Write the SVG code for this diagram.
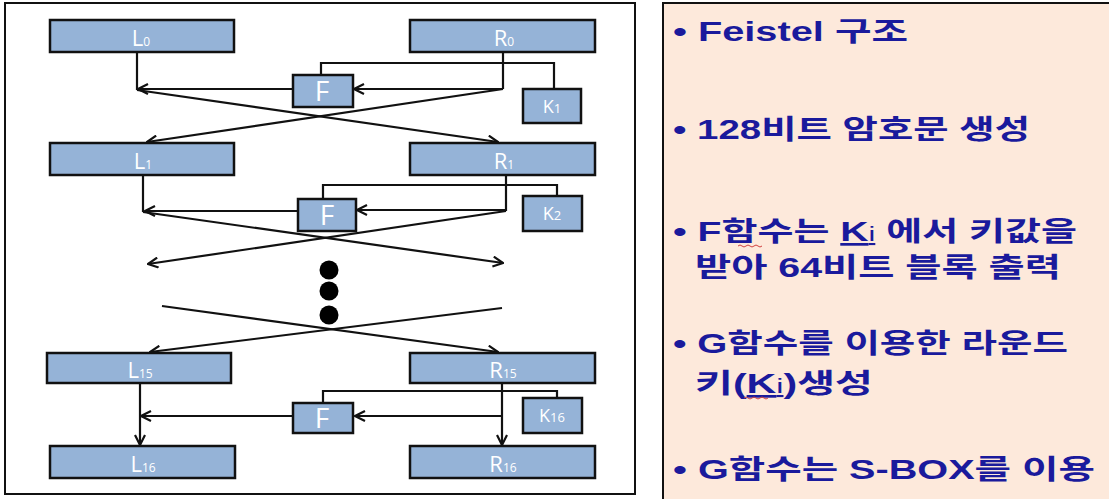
<svg xmlns="http://www.w3.org/2000/svg" width="1109" height="499" viewBox="0 0 1109 499">
<style>
.box{fill:#95B3D7;stroke:#111;stroke-width:2.5}
.lbl{fill:#fff;font-family:"Open Sans","Liberation Sans",sans-serif;font-size:22px}
.flbl{fill:#fff;font-family:"Open Sans","Liberation Sans",sans-serif;font-size:28px}
.sub{font-size:12px}
.klbl{fill:#fff;font-family:"Open Sans","Liberation Sans",sans-serif;font-size:18px}
.ksub{font-size:13px}
.ln{fill:none;stroke:#111;stroke-width:2.2}
.arr{fill:none;stroke:#111;stroke-width:2.2;marker-end:url(#ah)}
.txt{fill:#1A1A9C;font-family:"Liberation Sans","Noto Sans CJK KR",sans-serif;font-weight:bold;font-size:27px}
</style>
<defs>
<marker id="ah" viewBox="0 0 12 12" refX="11" refY="6" markerWidth="12" markerHeight="12" markerUnits="userSpaceOnUse" orient="auto">
<path d="M1,1 L11,6 L1,11" fill="none" stroke="#111" stroke-width="2.2"/>
</marker>
</defs>
<rect width="1109" height="499" fill="#fff"/>
<rect x="5" y="3" width="630" height="491" fill="#fff" stroke="#111" stroke-width="2"/>
<rect x="663" y="3" width="450" height="500" fill="#FDE9DB" stroke="#111" stroke-width="2"/>

<g id="connectors">
<path class="ln" d="M137,52 V90"/>
<path class="ln" d="M503,52 V89"/>
<path class="ln" d="M321,75 V63 H554 V89"/>
<path class="arr" d="M503,89 H354"/>
<path class="arr" d="M293,89 H138"/>
<path class="arr" d="M137,90 L498,142"/>
<path class="arr" d="M503,89 L147,142"/>
<path class="ln" d="M143,175 V212"/>
<path class="ln" d="M506,175 V211"/>
<path class="ln" d="M323,199 V185 H557 V196"/>
<path class="arr" d="M506,210 H357"/>
<path class="arr" d="M298,211 H145"/>
<path class="arr" d="M143,212 L503,263"/>
<path class="arr" d="M506,211 L148,264"/>
<path class="arr" d="M162,306 L498,352"/>
<path class="arr" d="M502,308 L150,352"/>
<path class="arr" d="M140,383 V445"/>
<path class="arr" d="M502,383 V445"/>
<path class="ln" d="M323,403 V391 H557 V398"/>
<path class="arr" d="M502,416 H355"/>
<path class="arr" d="M293,416 H141"/>
</g>

<g id="dots">
<circle cx="329" cy="270" r="9.5" fill="#000"/>
<circle cx="329" cy="291" r="9.5" fill="#000"/>
<circle cx="329" cy="315" r="9.5" fill="#000"/>
</g>

<g id="L0"><rect class="box" x="50" y="20" width="184" height="32"/><text class="lbl" x="141" y="46" text-anchor="middle">L<tspan class="sub">0</tspan></text></g>
<g id="R0"><rect class="box" x="410" y="20" width="185" height="32"/><text class="lbl" x="504" y="46" text-anchor="middle">R<tspan class="sub">0</tspan></text></g>
<g id="F1"><rect class="box" x="293" y="75" width="60" height="32"/><text class="flbl" x="322" y="101" text-anchor="middle">F</text></g>
<g id="K1"><rect class="box" x="523" y="89" width="58" height="34"/><text class="klbl" x="552" y="113" text-anchor="middle">K<tspan class="ksub">1</tspan></text></g>
<g id="L1"><rect class="box" x="50" y="143" width="184" height="32"/><text class="lbl" x="143" y="169" text-anchor="middle">L<tspan class="sub">1</tspan></text></g>
<g id="R1"><rect class="box" x="410" y="143" width="185" height="32"/><text class="lbl" x="504" y="169" text-anchor="middle">R<tspan class="sub">1</tspan></text></g>
<g id="F2"><rect class="box" x="298" y="199" width="58" height="32"/><text class="flbl" x="327" y="225" text-anchor="middle">F</text></g>
<g id="K2"><rect class="box" x="523" y="196" width="59" height="35"/><text class="klbl" x="552" y="220" text-anchor="middle">K<tspan class="ksub">2</tspan></text></g>
<g id="L15"><rect class="box" x="47" y="353" width="184" height="30"/><text class="lbl" x="140" y="378" text-anchor="middle">L<tspan class="sub">15</tspan></text></g>
<g id="R15"><rect class="box" x="410" y="353" width="185" height="30"/><text class="lbl" x="503" y="378" text-anchor="middle">R<tspan class="sub">15</tspan></text></g>
<g id="F3"><rect class="box" x="293" y="403" width="60" height="30"/><text class="flbl" x="322" y="428" text-anchor="middle">F</text></g>
<g id="K16"><rect class="box" x="523" y="398" width="59" height="35"/><text class="klbl" x="552" y="422" text-anchor="middle">K<tspan class="ksub">16</tspan></text></g>
<g id="L16"><rect class="box" x="50" y="446" width="185" height="32"/><text class="lbl" x="143" y="472" text-anchor="middle">L<tspan class="sub">16</tspan></text></g>
<g id="R16"><rect class="box" x="410" y="446" width="185" height="32"/><text class="lbl" x="503" y="472" text-anchor="middle">R<tspan class="sub">16</tspan></text></g>

<g id="notes">
<text class="txt" x="673" y="41" textLength="235" lengthAdjust="spacingAndGlyphs">• Feistel 구조</text>
<text class="txt" x="673" y="139" textLength="357" lengthAdjust="spacingAndGlyphs">• 128비트 암호문 생성</text>
<text class="txt" x="673" y="241" textLength="404" lengthAdjust="spacingAndGlyphs">• F함수는 <tspan text-decoration="underline">K<tspan font-weight="normal" font-size="21">i</tspan></tspan> 에서 키값을</text>
<text class="txt" x="695" y="277" textLength="366" lengthAdjust="spacingAndGlyphs">받아 64비트 블록 출력</text>
<text class="txt" x="673" y="353" textLength="395" lengthAdjust="spacingAndGlyphs">• G함수를 이용한 라운드</text>
<text class="txt" x="695" y="393" textLength="178" lengthAdjust="spacingAndGlyphs">키(<tspan text-decoration="underline">K<tspan font-weight="normal" font-size="21">i</tspan></tspan>)생성</text>
<text class="txt" x="673" y="479" textLength="422" lengthAdjust="spacingAndGlyphs">• G함수는 S-BOX를 이용</text>
<path d="M738,246 q2,-2 4,0 t4,0 t4,0 t4,0 t4,0 t4,0" fill="none" stroke="#D04040" stroke-width="1"/>
<path d="M744,398 q2,-2 4,0 t4,0 t4,0 t4,0 t4,0 t4,0" fill="none" stroke="#D04040" stroke-width="1"/>
</g>
</svg>
